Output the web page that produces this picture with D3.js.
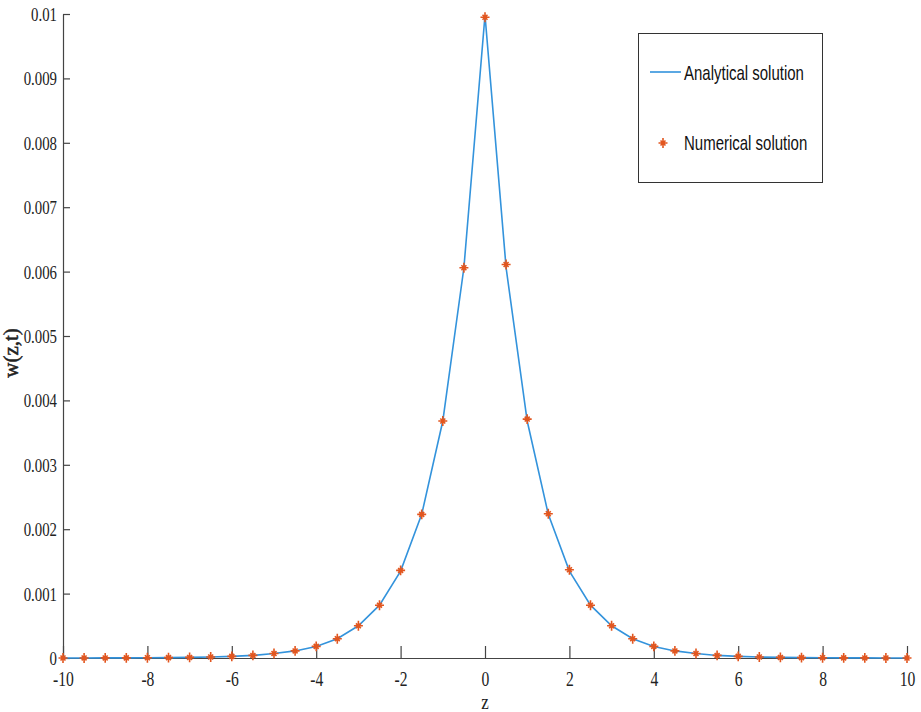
<!DOCTYPE html>
<html>
<head>
<meta charset="utf-8">
<script src="https://cdn.jsdelivr.net/npm/d3@7"></script>
<style>
  html, body { margin: 0; padding: 0; background: #fff; }
  svg { display: block; }
</style>
</head>
<body>
<svg id="chart" width="921" height="712"></svg>
<script>
// z grid
const zValues = [-10,-9.5,-9,-8.5,-8,-7.5,-7,-6.5,-6,-5.5,-5,-4.5,-4,-3.5,-3,-2.5,-2,-1.5,-1,-0.5,
  0,0.5,1,1.5,2,2.5,3,3.5,4,4.5,5,5.5,6,6.5,7,7.5,8,8.5,9,9.5,10];

// analytical w(z,t)
const analytical = [0.00000045,0.0000007,0.0000012,0.000002,0.0000034,0.0000055,0.000009,0.000015,0.000025,0.00004,
  0.00007,0.00011,0.00018,0.0003,0.0005,0.00082,0.00135,0.00223,0.00368,0.00606,
  0.00998,
  0.00606,0.00368,0.00223,0.00135,0.00082,0.0005,0.0003,0.00018,0.00011,0.00007,
  0.00004,0.000025,0.000015,0.000009,0.0000055,0.0000034,0.000002,0.0000012,0.0000007,0.00000045];

// numerical w(z,t)
const numerical = [0.00000045,0.0000007,0.0000012,0.000002,0.0000034,0.0000055,0.000009,0.000015,0.000025,0.00004,
  0.00007,0.00011,0.00018,0.0003,0.0005,0.00082,0.00136,0.00223,0.00368,0.00606,
  0.00995,
  0.00611,0.00371,0.00224,0.00137,0.00082,0.0005,0.0003,0.00018,0.00011,0.00007,
  0.00004,0.000025,0.000015,0.000009,0.0000055,0.0000034,0.000002,0.0000012,0.0000007,0.00000045];

const xTicks = [-10,-8,-6,-4,-2,0,2,4,6,8,10];
const yTicks = [0,0.001,0.002,0.003,0.004,0.005,0.006,0.007,0.008,0.009,0.01];
const yTickLabels = ["0","0.001","0.002","0.003","0.004","0.005","0.006","0.007","0.008","0.009","0.01"];
const legendLabels = ["Analytical solution","Numerical solution"];

const lineColor = "#3393dc";
const markColor = "#e2561f";
const axisColor = "#444";

const svg = d3.select("#chart");
const x = d3.scaleLinear().domain([-10, 10]).range([63, 907]);
const y = d3.scaleLinear().domain([0, 0.01]).range([658, 14]);

// axes: ticks point inward
const xAxis = d3.axisBottom(x).tickValues(xTicks).tickSizeInner(-12).tickSizeOuter(0)
  .tickFormat(d => d);
const yAxis = d3.axisLeft(y).tickValues(yTicks).tickSizeInner(-7).tickSizeOuter(0)
  .tickFormat((d, i) => yTickLabels[i]);

const gx = svg.append("g").attr("transform", `translate(0,${y(0)})`).call(xAxis);
const gy = svg.append("g").attr("transform", `translate(${x(-10)},0)`).call(yAxis);

[gx, gy].forEach(g => {
  g.selectAll("path.domain").attr("stroke", axisColor).attr("stroke-width", 1.2);
  g.selectAll(".tick line").attr("stroke", axisColor).attr("stroke-width", 1.2);
  g.selectAll(".tick text")
    .attr("fill", "#222")
    .style("font-family", "'Liberation Serif', 'DejaVu Serif', serif")
    .style("font-size", "19px");
});

// condensed serif tick labels
gx.selectAll(".tick text")
  .style("font-size", "20px")
  .attr("y", 0).attr("dy", 0)
  .attr("transform", "translate(0,28) scale(0.78,1)")
  .attr("text-anchor", "middle");
gy.selectAll(".tick text")
  .attr("x", 0).attr("dy", "0.34em")
  .attr("transform", "translate(-6,0) scale(0.78,1)")
  .attr("text-anchor", "end");

// axis titles
svg.append("text")
  .attr("transform", `translate(${x(0)},709) scale(0.85,1)`)
  .attr("text-anchor", "middle")
  .style("font-family", "'Liberation Serif', 'DejaVu Serif', serif")
  .style("font-size", "20px").attr("fill", "#222")
  .text("z");
svg.append("text")
  .attr("transform", "translate(18,353) rotate(-90)")
  .attr("text-anchor", "middle")
  .style("font-family", "'Liberation Serif', 'DejaVu Serif', serif")
  .style("font-size", "21px").attr("fill", "#222")
  .attr("stroke", "#222").attr("stroke-width", 0.5)
  .text("w(z,t)");

// analytical curve
const line = d3.line().x((d, i) => x(zValues[i])).y(d => y(d));
svg.append("path").datum(analytical)
  .attr("d", line)
  .attr("fill", "none")
  .attr("stroke", lineColor)
  .attr("stroke-width", 1.6);

// asterisk marker
function star(g, cx, cy, r) {
  const p = d3.path();
  p.moveTo(cx - r, cy); p.lineTo(cx + r, cy);
  p.moveTo(cx, cy - r * 1.1); p.lineTo(cx, cy + r * 1.1);
  const k = r * 0.55;
  p.moveTo(cx - k, cy - k); p.lineTo(cx + k, cy + k);
  p.moveTo(cx - k, cy + k); p.lineTo(cx + k, cy - k);
  g.append("path").attr("d", p.toString())
    .attr("stroke", markColor).attr("stroke-width", 1.6).attr("fill", "none");
}

const marks = svg.append("g");
numerical.forEach((v, i) => star(marks, x(zValues[i]), y(v), 4.5));

// legend
const lg = svg.append("g");
lg.append("rect").attr("x", 638.5).attr("y", 33.5).attr("width", 184).attr("height", 149)
  .attr("fill", "#fff").attr("stroke", "#333").attr("stroke-width", 1);
lg.append("line").attr("x1", 650).attr("x2", 681).attr("y1", 72).attr("y2", 72)
  .attr("stroke", lineColor).attr("stroke-width", 1.6);
star(lg, 663, 143, 4.5);
legendLabels.forEach((t, i) => {
  lg.append("text")
    .attr("transform", `translate(684,${i === 0 ? 80 : 150}) scale(0.75,1)`)
    .style("font-family", "'Liberation Sans', Arial, sans-serif")
    .style("font-size", "20px").attr("fill", "#111")
    .text(t);
});
</script>
</body>
</html>
